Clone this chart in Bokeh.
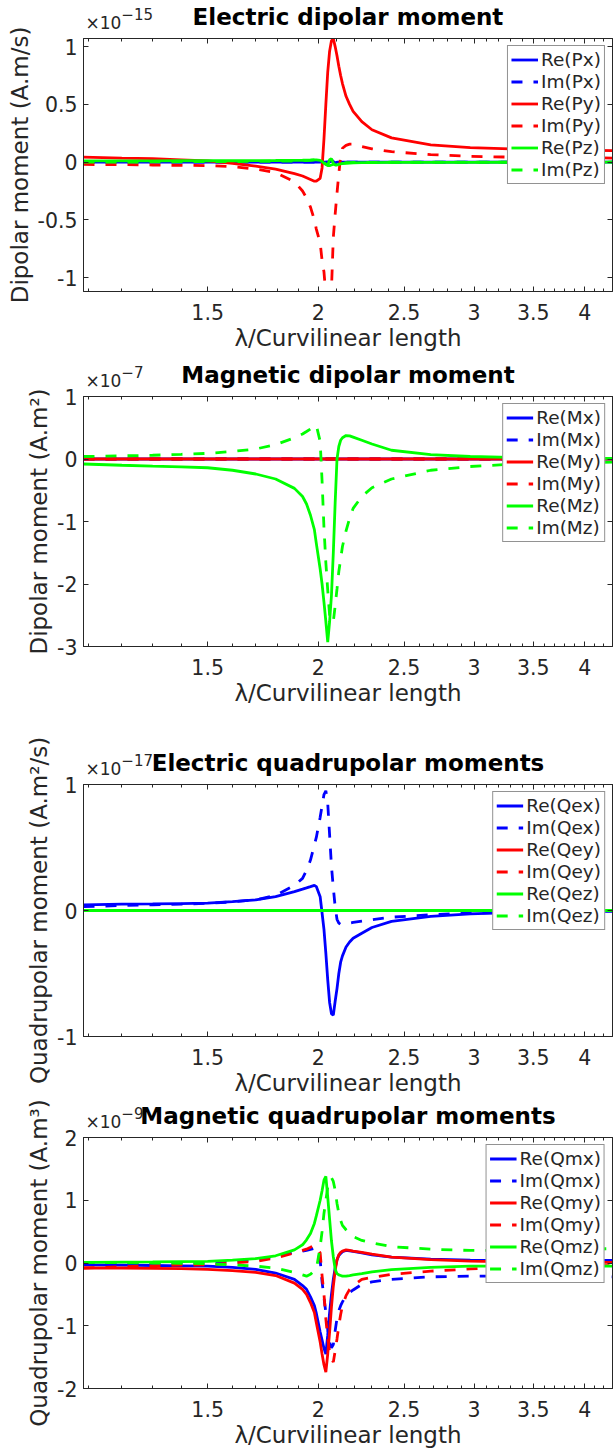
from bokeh.plotting import figure
from bokeh.models import Range1d, FixedTicker, LinearAxis, CustomJSTickFormatter
from bokeh.layouts import column
from bokeh.embed import file_html
from bokeh.resources import INLINE

# ---------------- data (values in units of the axis exponent) ----------------
lam = [1.086, 1.2, 1.3, 1.4, 1.5, 1.6, 1.7, 1.79, 1.88, 1.92, 1.94, 1.96, 1.98, 1.99,
       2.01, 2.02, 2.03, 2.04, 2.05, 2.06, 2.07, 2.08, 2.09, 2.10, 2.11, 2.12, 2.13,
       2.15, 2.17, 2.19, 2.24, 2.30, 2.42, 2.68, 2.97, 3.3, 3.8, 4.3]

# Electric dipolar moment (x1e-15 A.m/s)
re_px = [0, 0, 0, 0, 0, 0, 0, 0, 0, 0, 0, 0, 0, 0, 0, 0, 0, 0, 0, 0.01, 0.02, 0.005, -0.01,
         0, 0, 0, 0, 0, 0, 0, 0, 0, 0, 0, 0, 0, 0, 0]
im_px = [0, 0, 0, 0, 0, 0, 0, 0, 0, 0, 0, 0, 0, 0, 0, 0, 0, 0, 0, 0, 0.01, 0.0, -0.005,
         0, 0, 0, 0, 0, 0, 0, 0, 0, 0, 0, 0, 0, 0, 0]
re_py = [0.043, 0.035, 0.03, 0.02, 0.01, -0.01, -0.035, -0.06, -0.10, -0.12, -0.135, -0.15,
         -0.165, -0.165, -0.14, -0.05, 0.2, 0.5, 0.78, 0.96, 1.05, 1.07, 1.0, 0.92, 0.83,
         0.75, 0.68, 0.57, 0.50, 0.44, 0.35, 0.28, 0.21, 0.15, 0.125, 0.115, 0.105, 0.10]
im_py = [-0.02, -0.022, -0.025, -0.028, -0.03, -0.04, -0.06, -0.09, -0.17, -0.25, -0.31,
         -0.39, -0.50, -0.58, -0.70, -0.85, -0.95, -1.15, -1.35, -1.35, -1.1, -0.65, -0.45,
         -0.27, -0.1, 0.05, 0.12, 0.145, 0.155, 0.155, 0.135, 0.115, 0.09, 0.065, 0.05,
         0.043, 0.04, 0.035]
re_pz = [0.01, 0.01, 0.01, 0.012, 0.012, 0.012, 0.013, 0.014, 0.015, 0.016, 0.017, 0.018,
         0.02, 0.02, 0.015, 0.005, -0.01, -0.02, -0.025, 0.02, 0.03, -0.01, -0.025, -0.025,
         -0.02, -0.015, -0.012, -0.01, -0.008, -0.007, -0.005, -0.004, -0.003, -0.002,
         -0.002, -0.001, -0.001, 0.0]
im_pz = [0.0, 0.0, 0.002, 0.003, 0.004, 0.005, 0.006, 0.008, 0.01, 0.012, 0.014, 0.016,
         0.02, 0.022, 0.025, 0.02, 0.0, -0.02, -0.03, -0.03, -0.025, -0.02, -0.015, -0.012,
         -0.01, -0.008, -0.006, -0.005, -0.004, -0.003, -0.002, -0.002, -0.001, -0.001,
         0.0, 0.0, 0.0, 0.0]

# Magnetic dipolar moment (x1e-7 A.m^2)
re_mx = [0] * 38
im_mx = [0] * 38
re_my = [0] * 38
im_my = [0] * 38
re_mz = [-0.08, -0.10, -0.115, -0.125, -0.14, -0.18, -0.24, -0.32, -0.47, -0.6, -0.72, -0.9,
         -1.13, -1.35, -1.76, -2.0, -2.29, -2.6, -2.93, -2.6, -2.18, -1.5, -0.7, 0.0, 0.2,
         0.3, 0.34, 0.375, 0.37, 0.35, 0.30, 0.24, 0.14, 0.07, 0.04, 0.025, 0.015, 0.01]
im_mz = [0.04, 0.05, 0.06, 0.075, 0.09, 0.12, 0.16, 0.23, 0.34, 0.40, 0.44, 0.48, 0.53,
         0.54, 0.28, -0.35, -1.1, -1.66, -2.1, -2.5, -2.6, -2.6, -2.35, -2.08, -1.8, -1.6,
         -1.4, -1.15, -0.95, -0.79, -0.6, -0.46, -0.32, -0.18, -0.12, -0.085, -0.065, -0.05]

# Electric quadrupolar moments (x1e-17 A.m^2/s)
re_qex = [0.045, 0.05, 0.052, 0.055, 0.058, 0.07, 0.085, 0.11, 0.15, 0.17, 0.18, 0.19, 0.20,
          0.19, 0.11, -0.02, -0.15, -0.34, -0.55, -0.73, -0.82, -0.83, -0.72, -0.62, -0.5,
          -0.41, -0.36, -0.29, -0.25, -0.22, -0.18, -0.135, -0.087, -0.047, -0.026, -0.016,
          -0.01, -0.006]
im_qex = [0.03, 0.04, 0.045, 0.05, 0.058, 0.068, 0.085, 0.12, 0.2, 0.255, 0.32, 0.40, 0.52,
          0.58, 0.74, 0.83, 0.92, 0.95, 0.85, 0.6, 0.35, 0.18, 0.03, -0.07, -0.1, -0.11,
          -0.11, -0.105, -0.1, -0.095, -0.085, -0.074, -0.053, -0.034, -0.02, -0.014, -0.01,
          -0.008]
re_qey = [0] * 38
im_qey = [0] * 38
re_qez = [0] * 38
im_qez = [0] * 38

# Magnetic quadrupolar moments (x1e-9 A.m^3)
re_qmx = [-0.03, -0.035, -0.04, -0.045, -0.05, -0.07, -0.1, -0.16, -0.26, -0.36, -0.42, -0.54,
          -0.68, -0.8, -1.1, -1.23, -1.36, -1.45, -1.15, -0.79, -0.5, -0.26, -0.08, 0.05, 0.12,
          0.15, 0.18, 0.2, 0.195, 0.185, 0.16, 0.13, 0.095, 0.063, 0.045, 0.04, 0.04, 0.04]
im_qmx = [-0.015, -0.01, -0.005, 0.0, 0.01, 0.03, 0.05, 0.095, 0.17, 0.19, 0.2, 0.215, 0.235,
          0.24, 0.05, -0.3, -0.55, -0.79, -1.05, -1.26, -1.35, -1.3, -1.08, -0.88, -0.76,
          -0.68, -0.62, -0.52, -0.47, -0.43, -0.34, -0.3, -0.26, -0.22, -0.21, -0.21, -0.22,
          -0.22]
re_qmy = [-0.08, -0.08, -0.085, -0.09, -0.1, -0.12, -0.15, -0.2, -0.32, -0.42, -0.5, -0.63,
          -0.79, -0.95, -1.26, -1.45, -1.62, -1.74, -1.45, -1.1, -0.7, -0.37, -0.12, 0.05,
          0.13, 0.17, 0.19, 0.21, 0.2, 0.19, 0.17, 0.14, 0.095, 0.053, 0.03, 0.02, 0.012, 0.01]
im_qmy = [-0.08, -0.06, -0.045, -0.035, -0.03, 0.0, 0.026, 0.08, 0.16, 0.2, 0.22, 0.25, 0.28,
          0.27, 0.16, -0.2, -0.5, -0.89, -1.2, -1.42, -1.52, -1.58, -1.4, -1.21, -1.0, -0.82,
          -0.68, -0.52, -0.42, -0.36, -0.26, -0.23, -0.18, -0.13, -0.095, -0.07, -0.05, -0.04]
re_qmz = [0.01, 0.015, 0.018, 0.022, 0.026, 0.045, 0.07, 0.115, 0.21, 0.29, 0.37, 0.47, 0.63,
          0.75, 1.0, 1.15, 1.32, 1.38, 1.05, 0.7, 0.35, 0.1, -0.1, -0.17, -0.19, -0.2, -0.21,
          -0.21, -0.2, -0.19, -0.17, -0.14, -0.105, -0.07, -0.05, -0.05, -0.05, -0.05]
im_qmz = [0.01, 0.005, 0.0, -0.005, -0.01, -0.03, -0.05, -0.08, -0.15, -0.19, -0.21, -0.18,
          -0.12, -0.1, 0.26, 0.5, 0.79, 1.0, 1.21, 1.3, 1.36, 1.3, 1.16, 0.95, 0.79, 0.68,
          0.6, 0.53, 0.47, 0.42, 0.36, 0.32, 0.26, 0.22, 0.2, 0.2, 0.21, 0.23]

x_tick_values = [1.5, 2, 2.5, 3, 3.5, 4]
x_minor_values = [1.1, 1.2, 1.3, 1.4, 1.5, 1.6, 1.7, 1.8, 1.9, 2.0, 2.1, 2.2, 2.3, 2.4, 2.5,
                  2.6, 2.7, 2.8, 2.9, 3.0, 3.1, 3.2, 3.3, 3.4, 3.5, 3.6, 3.7, 3.8, 3.9, 4.0,
                  4.1, 4.2]
x_label = "\u03bb/Curvilinear length"

# ---------------- style ----------------
FONT = "DejaVu Sans"
AXC = "#262626"
BLUE, RED, GREEN = "#0000ff", "#ff0000", "#00ff00"
X_START, X_END = 1.086, 4.30
LW = 2.8
DASH = "11 11"
W = 614
B_LEFT, B_RIGHT = 83, 2
FRAME_W = W - B_LEFT - B_RIGHT
BASE_FONT, EXP_FONT = 17, 15
MINUS = "\u2212"

fmt = CustomJSTickFormatter(code="return tick.toString();")
blank = CustomJSTickFormatter(code="return '';")


def lam_at_px(px):
    """data x whose screen position is px pixels from the figure's left edge"""
    return X_START * (X_END / X_START) ** ((px - B_LEFT) / FRAME_W)


def style_axis(ax, ticker, minor=False, labels=True):
    ax.ticker = ticker
    ax.axis_line_color = AXC
    ax.major_tick_line_color = AXC
    ax.minor_tick_line_color = AXC if minor else None
    ax.major_tick_in = 5
    ax.major_tick_out = 0
    ax.minor_tick_in = 3
    ax.minor_tick_out = 0
    if labels:
        ax.formatter = fmt
        ax.major_label_text_font = FONT
        ax.major_label_text_font_size = "20.5px"
        ax.major_label_text_color = AXC
    else:
        ax.formatter = blank
        ax.major_label_text_font_size = "0px"
        ax.major_label_standoff = 0
        ax.axis_label = None


def text_axis(text, center_px, font_px, standoff):
    """an axis used only to print one piece of text above the frame"""
    ax = LinearAxis(ticker=FixedTicker(ticks=[lam_at_px(center_px)], minor_ticks=[]),
                    formatter=CustomJSTickFormatter(args=dict(txt=text), code="return txt;"))
    ax.axis_line_color = None
    ax.major_tick_line_color = None
    ax.minor_tick_line_color = None
    ax.major_tick_in = 0
    ax.major_tick_out = 0
    ax.major_label_standoff = standoff
    ax.major_label_text_font = FONT
    ax.major_label_text_font_size = "%gpx" % font_px
    ax.major_label_text_color = AXC
    return ax


def make_panel(title, ylabel, exponent, yticks, ylim, series, height, b_top, b_bottom):
    p = figure(width=W, height=height, x_axis_type="log", title=None,
               x_range=Range1d(X_START, X_END), y_range=Range1d(ylim[0], ylim[1]),
               output_backend="svg", toolbar_location=None,
               min_border_left=B_LEFT, min_border_right=B_RIGHT,
               min_border_top=b_top, min_border_bottom=b_bottom)
    p.background_fill_color = "white"
    p.border_fill_color = "white"
    p.outline_line_color = AXC
    p.xgrid.visible = False
    p.ygrid.visible = False

    xt = FixedTicker(ticks=x_tick_values, minor_ticks=x_minor_values)
    yt = FixedTicker(ticks=yticks, minor_ticks=[])

    xa = p.xaxis[0]
    style_axis(xa, xt, minor=True)
    xa.major_label_standoff = 12
    xa.axis_label = x_label
    xa.axis_label_text_font = FONT
    xa.axis_label_text_font_size = "23px"
    xa.axis_label_text_font_style = "normal"
    xa.axis_label_text_color = AXC
    xa.axis_label_standoff = 2

    ya = p.yaxis[0]
    style_axis(ya, yt)
    ya.major_label_standoff = 6
    ya.axis_label = ylabel
    ya.axis_label_text_font = FONT
    ya.axis_label_text_font_size = "23px"
    ya.axis_label_text_font_style = "normal"
    ya.axis_label_text_color = AXC
    ya.axis_label_standoff = 2

    # box ticks on top and right (no labels)
    top = LinearAxis()
    style_axis(top, FixedTicker(ticks=x_tick_values, minor_ticks=x_minor_values),
               minor=True, labels=False)
    p.add_layout(top, "above")
    right = LinearAxis()
    style_axis(right, FixedTicker(ticks=yticks, minor_ticks=[]), labels=False)
    p.add_layout(right, "right")

    # "x10" at the top-left corner, bold title on the same row
    base_w = BASE_FONT * 2.11
    head = text_axis("\u00d710", 85 + base_w / 2, BASE_FONT, 6)
    head.axis_label = title
    head.axis_label_text_font = FONT
    head.axis_label_text_font_size = "23px"
    head.axis_label_text_font_style = "bold"
    head.axis_label_text_color = "black"
    head.axis_label_standoff = -20
    p.add_layout(head, "above")
    # raised exponent
    exp_w = EXP_FONT * (0.838 + 0.636 * (len(exponent) - 1))
    sup = text_axis(exponent, 85 + base_w + exp_w / 2, EXP_FONT, -19)
    p.add_layout(sup, "above")

    for label, vals, color, dash in series:
        p.line(lam, vals, line_color=color, line_width=LW, line_dash=dash,
               legend_label=label)

    lg = p.legend[0]
    lg.location = "top_right"
    lg.margin = 7
    lg.padding = 3
    lg.spacing = 1
    lg.label_text_font = FONT
    lg.label_text_font_size = "18.5px"
    lg.label_text_color = AXC
    lg.label_height = 21
    lg.glyph_height = 21
    lg.glyph_width = 27
    lg.label_standoff = 3
    lg.border_line_color = AXC
    lg.border_line_width = 1
    lg.background_fill_color = "white"
    lg.background_fill_alpha = 1.0
    return p


p1 = make_panel("Electric dipolar moment", "Dipolar moment (A.m/s)", MINUS + "15",
                [-1, -0.5, 0, 0.5, 1], (-1.12, 1.07),
                [("Re(Px)", re_px, BLUE, "solid"), ("Im(Px)", im_px, BLUE, DASH),
                 ("Re(Py)", re_py, RED, "solid"), ("Im(Py)", im_py, RED, DASH),
                 ("Re(Pz)", re_pz, GREEN, "solid"), ("Im(Pz)", im_pz, GREEN, DASH)],
                358, 37, 67)
p2 = make_panel("Magnetic dipolar moment", "Dipolar moment (A.m\u00b2)", MINUS + "7",
                [-3, -2, -1, 0, 1], (-3, 1),
                [("Re(Mx)", re_mx, BLUE, "solid"), ("Im(Mx)", im_mx, BLUE, DASH),
                 ("Re(My)", re_my, RED, "solid"), ("Im(My)", im_my, RED, DASH),
                 ("Re(Mz)", re_mz, GREEN, "solid"), ("Im(Mz)", im_mz, GREEN, DASH)],
                354, 34, 66)
p3 = make_panel("Electric quadrupolar moments", "Quadrupolar moment (A.m\u00b2/s)",
                MINUS + "17", [-1, 0, 1], (-1, 1),
                [("Re(Qex)", re_qex, BLUE, "solid"), ("Im(Qex)", im_qex, BLUE, DASH),
                 ("Re(Qey)", re_qey, RED, "solid"), ("Im(Qey)", im_qey, RED, DASH),
                 ("Re(Qez)", re_qez, GREEN, "solid"), ("Im(Qez)", im_qez, GREEN, DASH)],
                386, 72, 61)
p4 = make_panel("Magnetic quadrupolar moments", "Quadrupolar moment (A.m\u00b3)", MINUS + "9",
                [-2, -1, 0, 1, 2], (-2, 2),
                [("Re(Qmx)", re_qmx, BLUE, "solid"), ("Im(Qmx)", im_qmx, BLUE, DASH),
                 ("Re(Qmy)", re_qmy, RED, "solid"), ("Im(Qmy)", im_qmy, RED, DASH),
                 ("Re(Qmz)", re_qmz, GREEN, "solid"), ("Im(Qmz)", im_qmz, GREEN, DASH)],
                352, 39, 60)

layout = column(p1, p2, p3, p4, spacing=0)
open("out.html", "w").write(file_html(layout, INLINE))
